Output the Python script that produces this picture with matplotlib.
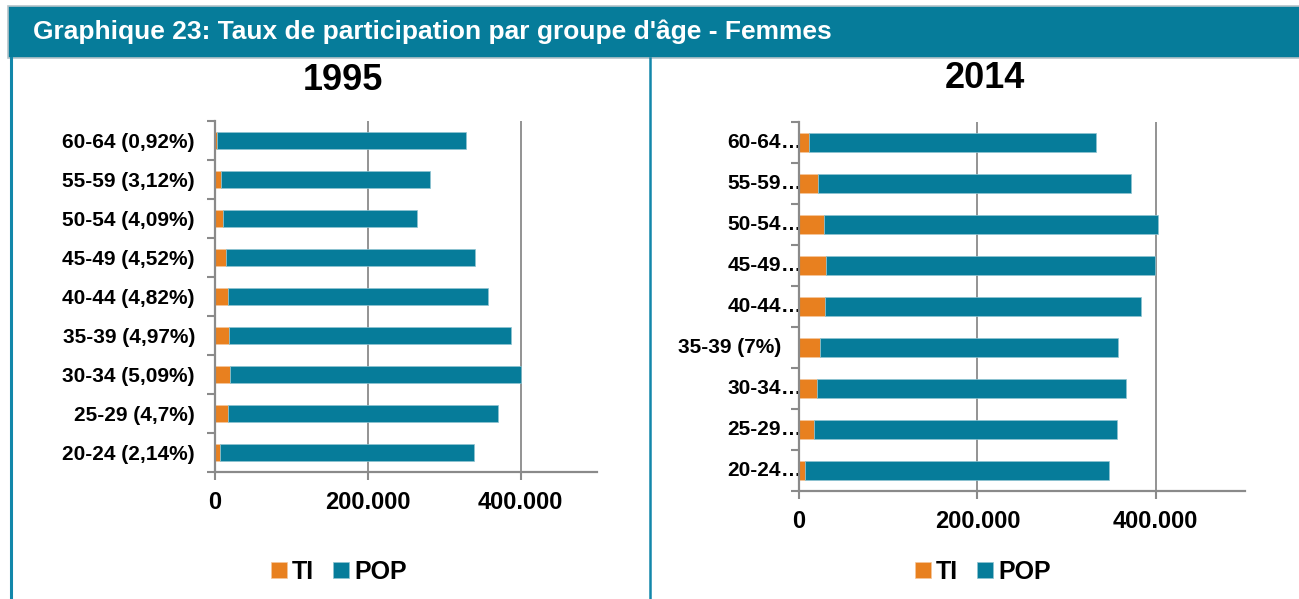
import matplotlib
matplotlib.use("Agg")
import matplotlib.pyplot as plt
from matplotlib.patches import Rectangle, Patch
from matplotlib.lines import Line2D
import matplotlib.transforms as mtransforms

plt.rcParams['font.family'] = ['Liberation Sans', 'DejaVu Sans']
plt.rcParams['font.weight'] = 'bold'

# data (bottom to top)
ages = ["20-24", "25-29", "30-34", "35-39", "40-44", "45-49", "50-54", "55-59", "60-64"]
labels_1995 = ["20-24 (2,14%)", "25-29 (4,7%)", "30-34 (5,09%)", "35-39 (4,97%)", "40-44 (4,82%)",
               "45-49 (4,52%)", "50-54 (4,09%)", "55-59 (3,12%)", "60-64 (0,92%)"]
ti_1995 = [7100, 16700, 19400, 18300, 16400, 14700, 10400, 8500, 3000]
pop_1995 = [331900, 354300, 380600, 368700, 340600, 325000, 254600, 272500, 326000]

labels_2014 = ["20-24", "25-29", "30-34", "35-39 (7%)", "40-44", "45-49", "50-54", "55-59", "60-64"]
truncated_2014 = [True, True, True, False, True, True, True, True, True]
ti_2014 = [6500, 17000, 20000, 24000, 29000, 30000, 28000, 21000, 11000]
pop_2014 = [341500, 339000, 347000, 334000, 354000, 369000, 374000, 351000, 322000]

xticks = [0, 200000, 400000]
xticklabels = ["0", "200.000", "400.000"]

TEAL = "#067C9A"
ORANGE = "#E8801F"
GREY = "#8A8A8A"

W, H = 1299, 599
fig = plt.figure(figsize=(W / 100, H / 100), dpi=100)


def px(x0, y_top, x1, y_bot):
    return [x0 / W, (H - y_bot) / H, (x1 - x0) / W, (y_bot - y_top) / H]


# header bar
fig.patches.append(Rectangle((8 / W, (H - 58) / H), 1, 52 / H, transform=fig.transFigure,
                             facecolor=TEAL, edgecolor="#b5c4c9", linewidth=1.2))
fig.text(33 / W, (H - 32) / H, "Graphique 23: Taux de participation par groupe d'âge - Femmes",
         color="white", fontsize=19, fontweight="bold", va="center", ha="left")
# frame lines
fig.lines.append(Line2D([11 / W, 11 / W], [0, (H - 58) / H], transform=fig.transFigure,
                        color="#1287AA", linewidth=2.2))
fig.lines.append(Line2D([650 / W, 650 / W], [0, (H - 58) / H], transform=fig.transFigure,
                        color="#1287AA", linewidth=1.8))


def draw(ax, ti, pop, title, title_xy, legend_xy):
    y = list(range(len(ti)))
    ax.barh(y, ti, height=0.44, color=ORANGE, edgecolor="#f5c79d", linewidth=0.5, zorder=3)
    ax.barh(y, pop, left=ti, height=0.44, color=TEAL, edgecolor="#8fc3d1", linewidth=0.5, zorder=3)
    ax.set_xlim(0, 500000)
    ax.set_ylim(-0.5, len(ti) - 0.5)
    ax.set_xticks(xticks)
    ax.set_xticklabels(xticklabels, fontsize=17, fontweight="bold")
    ax.set_yticks([i - 0.5 for i in range(len(ti) + 1)], minor=True)
    ax.tick_params(axis="y", which="minor", length=6, width=1.5, color=GREY, direction="out")
    ax.tick_params(axis="x", which="major", length=6, width=1.5, color=GREY, pad=7.5, direction="out")
    for s in ["top", "right"]:
        ax.spines[s].set_visible(False)
    for s in ["left", "bottom"]:
        ax.spines[s].set_color(GREY)
        ax.spines[s].set_linewidth(1.6)
        ax.spines[s].set_zorder(4)
    ax.grid(axis="x", color=GREY, linewidth=1.3, zorder=0)
    ax.set_axisbelow(True)
    fig.text(title_xy[0] / W, (H - title_xy[1]) / H, title, fontsize=26, fontweight="bold",
             ha="center", va="center")
    handles = [Patch(facecolor=ORANGE, edgecolor="#f5c79d", linewidth=0.5, label="TI"),
               Patch(facecolor=TEAL, edgecolor="#8fc3d1", linewidth=0.5, label="POP")]
    fig.legend(handles=handles, loc="center", bbox_to_anchor=(legend_xy[0] / W, (H - legend_xy[1]) / H),
               ncol=2, frameon=False, prop={"size": 18, "weight": "bold"},
               handlelength=0.62, handleheight=0.62, handletextpad=0.22, columnspacing=0.75,
               borderpad=0, borderaxespad=0)


ax1 = fig.add_axes(px(215, 121, 597, 472))
draw(ax1, ti_1995, pop_1995, "1995", (343, 81), (339, 572))
ax1.set_yticks(range(len(ages)))
ax1.set_yticklabels(labels_1995, fontsize=15, fontweight="bold")
ax1.tick_params(axis="y", which="major", length=0, pad=14.4)

ax2 = fig.add_axes(px(799, 122, 1245, 491))
draw(ax2, ti_2014, pop_2014, "2014", (985, 79), (983, 572))
ax2.set_yticks(range(len(ages)))
ax2.set_yticklabels([])
ax2.tick_params(axis="y", which="major", length=0)
base = mtransforms.blended_transform_factory(ax2.transAxes, ax2.transData)
lab_tr = mtransforms.offset_copy(base, fig=fig, x=-18, y=0, units="dots")
for i, (lab, trunc) in enumerate(zip(labels_2014, truncated_2014)):
    ax2.text(0, i, lab, transform=lab_tr, ha="right", va="center", fontsize=15, fontweight="bold")
    if trunc:
        ax2.text(0, i, "…", transform=lab_tr, ha="left", va="center", fontsize=15, fontweight="bold")

fig.savefig("out.png", dpi=100)
